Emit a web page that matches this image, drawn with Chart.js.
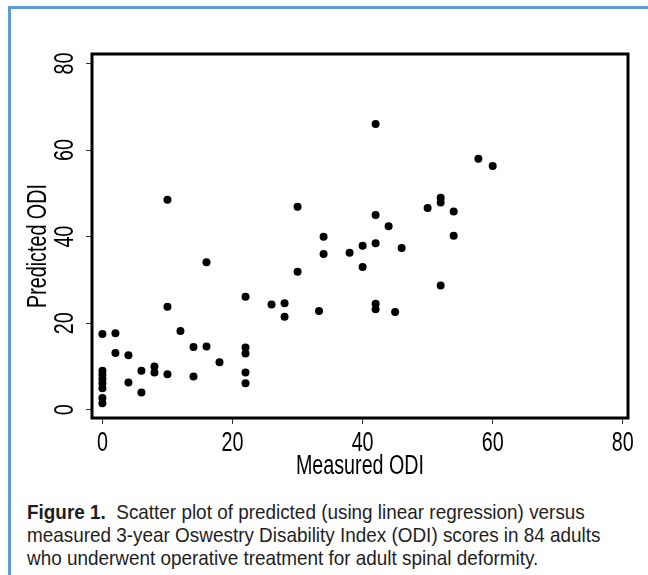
<!DOCTYPE html>
<html>
<head>
<meta charset="utf-8">
<script src="https://cdn.jsdelivr.net/npm/chart.js@4.4.1/dist/chart.umd.min.js"></script>
<style>
  html, body { margin: 0; padding: 0; background: #fff; }
  body { width: 648px; height: 575px; overflow: hidden; position: relative; font-family: "Liberation Sans", Arial, sans-serif; }
  #frame { position: absolute; left: 8px; top: 6px; width: 700px; height: 700px; border-left: 3px solid #5d9cd8; border-top: 3px solid #5d9cd8; }
  #wrap { position: absolute; left: 0; top: 0; width: 648px; height: 490px; }
  #caption { position: absolute; left: 27px; top: 500px; font-size: 21px; line-height: 23px; color: #1e1e1e; transform: scaleX(0.9); transform-origin: 0 0; white-space: nowrap; }
  #caption b { font-weight: bold; }
</style>
</head>
<body>
<div id="frame"></div>
<div id="wrap"><canvas id="chart" width="648" height="490"></canvas></div>
<div id="caption"><b>Figure 1.</b>&nbsp; Scatter plot of predicted (using linear regression) versus<br>measured 3-year Oswestry Disability Index (ODI) scores in 84 adults<br>who underwent operative treatment for adult spinal deformity.</div>
<script>
// values (overlapping points are drawn once)
const measuredODI = [
  0, 0, 0, 0, 0, 0, 0, 0,
  2, 2, 4, 4, 6, 6, 8, 8,
  10, 10, 10, 12, 14, 14, 16, 16, 18,
  22, 22, 22, 22, 22,
  26, 28, 28, 30, 30, 33.3, 34, 34, 38, 40, 40,
  42, 42, 42, 42, 42, 44, 45, 46, 50,
  52, 52, 52, 54, 54, 57.8, 60
];
const predictedODI = [
  17.5, 9.0, 8.1, 7.1, 6.1, 5.0, 2.7, 1.5,
  17.7, 13.1, 12.6, 6.3, 9.0, 4.0, 10.0, 8.6,
  8.2, 48.5, 23.8, 18.2, 14.5, 7.7, 14.6, 34.1, 11.0,
  26.1, 14.4, 13.0, 8.6, 6.1,
  24.3, 24.6, 21.5, 46.9, 31.9, 22.8, 40.0, 36.0, 36.3, 37.9, 33.0,
  66.0, 45.0, 38.5, 24.5, 23.2, 42.4, 22.6, 37.4, 46.6,
  49.0, 47.9, 28.7, 45.8, 40.2, 58.0, 56.3
];
const xTickValues = [0, 20, 40, 60, 80];
const yTickValues = [0, 20, 40, 60, 80];
const xTitle = "Measured ODI";
const yTitle = "Predicted ODI";

const AXIS_FONT = '27px "Liberation Sans", Arial, sans-serif';
const SQUEEZE = 0.73;  // the figure uses a condensed face

function squeezedText(ctx, text, x, y, angle) {
  ctx.save();
  ctx.translate(x, y);
  ctx.rotate(angle);
  ctx.scale(SQUEEZE, 1);
  ctx.fillText(text, 0, 0);
  ctx.restore();
}

// axis labels, titles and the heavy plot box
const axisText = {
  id: "axisText",
  afterDraw(chart) {
    const { ctx, chartArea: a, scales: { x, y } } = chart;
    ctx.save();
    ctx.fillStyle = "#000";
    ctx.font = AXIS_FONT;
    ctx.textAlign = "center";
    ctx.textBaseline = "middle";
    xTickValues.forEach(v => squeezedText(ctx, String(v), x.getPixelForValue(v), a.bottom + 26, 0));
    squeezedText(ctx, xTitle, (a.left + a.right) / 2, a.bottom + 49, 0);
    yTickValues.forEach(v => squeezedText(ctx, String(v), a.left - 26, y.getPixelForValue(v), -Math.PI / 2));
    squeezedText(ctx, yTitle, a.left - 53, (a.top + a.bottom) / 2 + 10, -Math.PI / 2);

    ctx.lineWidth = 3;
    ctx.strokeStyle = "#000";
    ctx.strokeRect(a.left, a.top, a.right - a.left, a.bottom - a.top);
    ctx.restore();
  }
};

const tickGrid = { drawOnChartArea: false, drawTicks: true, tickLength: 6, color: "#333", lineWidth: 1 };

new Chart(document.getElementById("chart"), {
  type: "scatter",
  data: {
    datasets: [{
      data: measuredODI.map((m, i) => ({ x: m, y: predictedODI[i] })),
      backgroundColor: "#000",
      borderColor: "#000",
      borderWidth: 0,
      pointRadius: 4,
      pointHoverRadius: 4
    }]
  },
  options: {
    responsive: false,
    animation: false,
    devicePixelRatio: 1,
    layout: { padding: { left: 0, top: 54, right: 20, bottom: 0 } },
    plugins: { legend: { display: false }, tooltip: { enabled: false } },
    scales: {
      x: {
        type: "linear",
        min: -1.6,
        max: 80.8,
        afterBuildTicks: s => { s.ticks = xTickValues.map(v => ({ value: v })); },
        afterFit: s => { s.height = 72; },
        ticks: { display: false },
        grid: tickGrid,
        border: { display: false }
      },
      y: {
        type: "linear",
        min: -1.9,
        max: 82.2,
        afterBuildTicks: s => { s.ticks = yTickValues.map(v => ({ value: v })); },
        afterFit: s => { s.width = 92; },
        ticks: { display: false },
        grid: tickGrid,
        border: { display: false }
      }
    }
  },
  plugins: [axisText]
});
</script>
</body>
</html>
